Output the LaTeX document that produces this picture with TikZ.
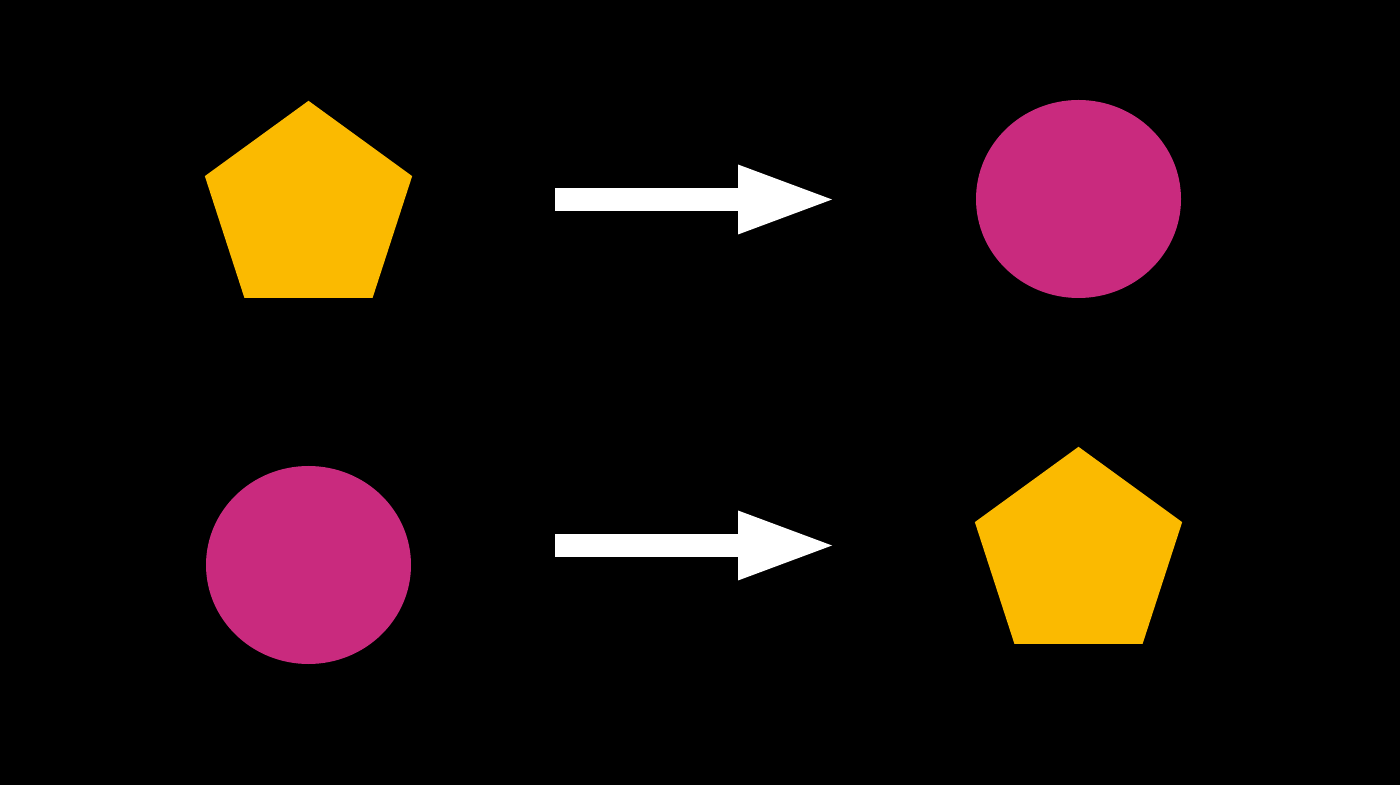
\documentclass[tikz,border=0pt]{standalone}
\usetikzlibrary{shapes.geometric,arrows.meta}
\definecolor{pentyellow}{HTML}{FBBA00}
\definecolor{circmagenta}{HTML}{C92A7E}
\tikzset{
  pent/.style={regular polygon, regular polygon sides=5, minimum size=2.18cm, inner sep=0pt, fill=pentyellow},
  blob/.style={ellipse, minimum width=2.05cm, minimum height=1.98cm, inner sep=0pt, fill=circmagenta},
  bigarrow/.style={white, line width=0.23cm, -{Triangle[length=0.94cm,width=0.70cm,line width=0pt]}}
}
\begin{document}
\begin{tikzpicture}
\fill[black] (0,0) rectangle (14,7.85);
\useasboundingbox (0,0) rectangle (14,7.85);
\node[pent] (p1) at (3.085,5.752) {};
\node[blob] (c1) at (10.785,5.86) {};
\node[blob] (c2) at (3.085,2.20) {};
\node[pent] (p2) at (10.785,2.292) {};
\coordinate (a1s) at (5.55,5.855);
\coordinate (a1e) at (8.32,5.855);
\coordinate (a2s) at (5.55,2.395);
\coordinate (a2e) at (8.32,2.395);
\draw[bigarrow] (a1s) -- (a1e);
\draw[bigarrow] (a2s) -- (a2e);
\end{tikzpicture}
\end{document}
